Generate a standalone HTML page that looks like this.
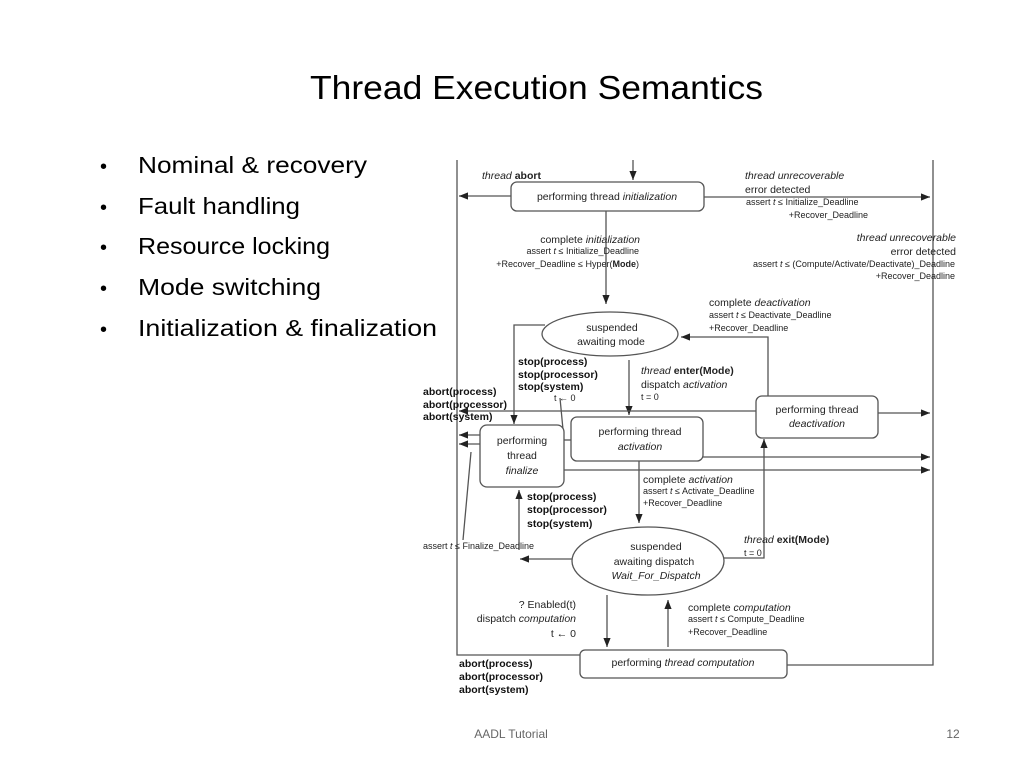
<!DOCTYPE html>
<html><head><meta charset="utf-8"><style>
html,body{margin:0;padding:0;background:#fff;}
svg{display:block;}
.t{font-family:"Liberation Sans",Arial,sans-serif;fill:#000;}
.s{font-family:"Liberation Sans",Arial,sans-serif;font-size:10.5px;fill:#222;}
.x{font-family:"Liberation Sans",Arial,sans-serif;font-size:9px;fill:#222;}
.b{font-family:"Liberation Sans",Arial,sans-serif;font-size:10.5px;font-weight:bold;fill:#111;}
.l{stroke:#555;stroke-width:1.3;fill:none;}
.n{stroke:#555;stroke-width:1.3;fill:#fff;}
</style></head><body>
<svg width="1024" height="768" viewBox="0 0 1024 768" xmlns="http://www.w3.org/2000/svg">
<defs><marker id="a" viewBox="0 0 10 10" refX="10" refY="5" markerWidth="7" markerHeight="7" orient="auto"><path d="M0,1 L10,5 L0,9 z" fill="#222"/></marker></defs>
<text class="t" x="310" y="99" font-size="33" textLength="453" lengthAdjust="spacingAndGlyphs">Thread Execution Semantics</text>
<g class="t" font-size="23">
<text x="100" y="173" font-size="20">•</text><text x="138" y="173" textLength="229" lengthAdjust="spacingAndGlyphs">Nominal &amp; recovery</text>
<text x="100" y="214" font-size="20">•</text><text x="138" y="214" textLength="162" lengthAdjust="spacingAndGlyphs">Fault handling</text>
<text x="100" y="254" font-size="20">•</text><text x="138" y="254" textLength="192" lengthAdjust="spacingAndGlyphs">Resource locking</text>
<text x="100" y="295" font-size="20">•</text><text x="138" y="295" textLength="183" lengthAdjust="spacingAndGlyphs">Mode switching</text>
<text x="100" y="336" font-size="20">•</text><text x="138" y="336" textLength="299" lengthAdjust="spacingAndGlyphs">Initialization &amp; finalization</text>
</g>
<text class="t" x="511" y="738" font-size="12" text-anchor="middle" style="fill:#666">AADL Tutorial</text>
<text class="t" x="953" y="738" font-size="12" text-anchor="middle" style="fill:#666">12</text>

<path class="l" d="M457,160 V655 H580"/>
<path class="l" d="M933,160 V665 H787"/>
<path class="l" d="M633,160 V180" marker-end="url(#a)"/>
<path class="l" d="M511,196 H459" marker-end="url(#a)"/>
<path class="l" d="M704,197 H930" marker-end="url(#a)"/>
<path class="l" d="M606,211 V304" marker-end="url(#a)"/>
<path class="l" d="M768,396 V337 H681" marker-end="url(#a)"/>
<path class="l" d="M545,325 H514 V424" marker-end="url(#a)"/>
<path class="l" d="M629,360 V415" marker-end="url(#a)"/>
<path class="l" d="M756,411 H459" marker-end="url(#a)"/>
<path class="l" d="M878,413 H930" marker-end="url(#a)"/>
<path class="l" d="M703,457 H930" marker-end="url(#a)"/>
<path class="l" d="M564,470 H930" marker-end="url(#a)"/>
<path class="l" d="M480,435 H459" marker-end="url(#a)"/>
<path class="l" d="M480,444 H459" marker-end="url(#a)"/>
<path class="l" d="M564,440 L560,398"/>
<path class="l" d="M564,440 H571"/>
<path class="l" d="M639,461 V523" marker-end="url(#a)"/>
<path class="l" d="M572,559 H520" marker-end="url(#a)"/>
<path class="l" d="M519,550 V490" marker-end="url(#a)"/>
<path class="l" d="M463,540 L471,452"/>
<path class="l" d="M724,558 H764 V439" marker-end="url(#a)"/>
<path class="l" d="M607,595 V647" marker-end="url(#a)"/>
<path class="l" d="M668,647 V600" marker-end="url(#a)"/>

<rect class="n" x="511" y="182" width="193" height="29" rx="6"/>
<text class="s" x="607" y="200" text-anchor="middle">performing thread <tspan font-style="italic">initialization</tspan></text>
<ellipse class="n" cx="610" cy="334" rx="68" ry="22"/>
<text class="s" x="612" y="331" text-anchor="middle">suspended</text>
<text class="s" x="611" y="345" text-anchor="middle">awaiting mode</text>
<rect class="n" x="480" y="425" width="84" height="62" rx="7"/>
<text class="s" x="522" y="444" text-anchor="middle">performing</text>
<text class="s" x="522" y="459" text-anchor="middle">thread</text>
<text class="s" x="522" y="474" text-anchor="middle" font-style="italic">finalize</text>
<rect class="n" x="571" y="417" width="132" height="44" rx="6"/>
<text class="s" x="640" y="435" text-anchor="middle">performing thread</text>
<text class="s" x="640" y="450" text-anchor="middle" font-style="italic">activation</text>
<rect class="n" x="756" y="396" width="122" height="42" rx="6"/>
<text class="s" x="817" y="413" text-anchor="middle">performing thread</text>
<text class="s" x="817" y="427" text-anchor="middle" font-style="italic">deactivation</text>
<ellipse class="n" cx="648" cy="561" rx="76" ry="34"/>
<text class="s" x="656" y="550" text-anchor="middle">suspended</text>
<text class="s" x="654" y="565" text-anchor="middle">awaiting dispatch</text>
<text class="s" x="656" y="579" text-anchor="middle" font-style="italic">Wait_For_Dispatch</text>
<rect class="n" x="580" y="650" width="207" height="28" rx="5"/>
<text class="s" x="683" y="666" text-anchor="middle">performing <tspan font-style="italic">thread computation</tspan></text>

<text class="s" x="482" y="179"><tspan font-style="italic">thread</tspan> <tspan font-weight="bold">abort</tspan></text>
<text class="s" x="745" y="179" font-style="italic">thread unrecoverable</text>
<text class="s" x="745" y="193">error detected</text>
<text class="x" x="746" y="205">assert <tspan font-style="italic">t</tspan> ≤ Initialize_Deadline</text>
<text class="x" x="868" y="218" text-anchor="end">+Recover_Deadline</text>
<text class="s" x="640" y="243" text-anchor="end">complete <tspan font-style="italic">initialization</tspan></text>
<text class="x" x="639" y="254" text-anchor="end">assert <tspan font-style="italic">t</tspan> ≤ Initialize_Deadline</text>
<text class="x" x="639" y="267" text-anchor="end">+Recover_Deadline ≤ Hyper(<tspan font-weight="bold">Mode</tspan>)</text>
<text class="s" x="956" y="241" text-anchor="end" font-style="italic">thread unrecoverable</text>
<text class="s" x="956" y="255" text-anchor="end">error detected</text>
<text class="x" x="955" y="267" text-anchor="end">assert <tspan font-style="italic">t</tspan> ≤ (Compute/Activate/Deactivate)_Deadline</text>
<text class="x" x="955" y="279" text-anchor="end">+Recover_Deadline</text>
<text class="s" x="709" y="306">complete <tspan font-style="italic">deactivation</tspan></text>
<text class="x" x="709" y="318">assert <tspan font-style="italic">t</tspan> ≤ Deactivate_Deadline</text>
<text class="x" x="709" y="331">+Recover_Deadline</text>
<text class="b" x="518" y="365">stop(process)</text>
<text class="b" x="518" y="378">stop(processor)</text>
<text class="b" x="518" y="390">stop(system)</text>
<text class="x" x="554" y="401">t ← 0</text>
<text class="s" x="641" y="374"><tspan font-style="italic">thread</tspan> <tspan font-weight="bold">enter(Mode)</tspan></text>
<text class="s" x="641" y="388">dispatch <tspan font-style="italic">activation</tspan></text>
<text class="x" x="641" y="400">t = 0</text>
<text class="b" x="423" y="395">abort(process)</text>
<text class="b" x="423" y="408">abort(processor)</text>
<text class="b" x="423" y="420">abort(system)</text>
<text class="s" x="643" y="483">complete <tspan font-style="italic">activation</tspan></text>
<text class="x" x="643" y="494">assert <tspan font-style="italic">t</tspan> ≤ Activate_Deadline</text>
<text class="x" x="643" y="506">+Recover_Deadline</text>
<text class="b" x="527" y="500">stop(process)</text>
<text class="b" x="527" y="513">stop(processor)</text>
<text class="b" x="527" y="527">stop(system)</text>
<text class="x" x="423" y="549">assert <tspan font-style="italic">t</tspan> ≤ Finalize_Deadline</text>
<text class="s" x="744" y="543"><tspan font-style="italic">thread</tspan> <tspan font-weight="bold">exit(Mode)</tspan></text>
<text class="x" x="744" y="556">t = 0</text>
<text class="s" x="576" y="608" text-anchor="end">? Enabled(t)</text>
<text class="s" x="576" y="622" text-anchor="end">dispatch <tspan font-style="italic">computation</tspan></text>
<text class="s" x="576" y="637" text-anchor="end">t ← 0</text>
<text class="s" x="688" y="611">complete <tspan font-style="italic">computation</tspan></text>
<text class="x" x="688" y="622">assert <tspan font-style="italic">t</tspan> ≤ Compute_Deadline</text>
<text class="x" x="688" y="635">+Recover_Deadline</text>
<text class="b" x="459" y="667">abort(process)</text>
<text class="b" x="459" y="680">abort(processor)</text>
<text class="b" x="459" y="693">abort(system)</text>
</svg>
</body></html>
